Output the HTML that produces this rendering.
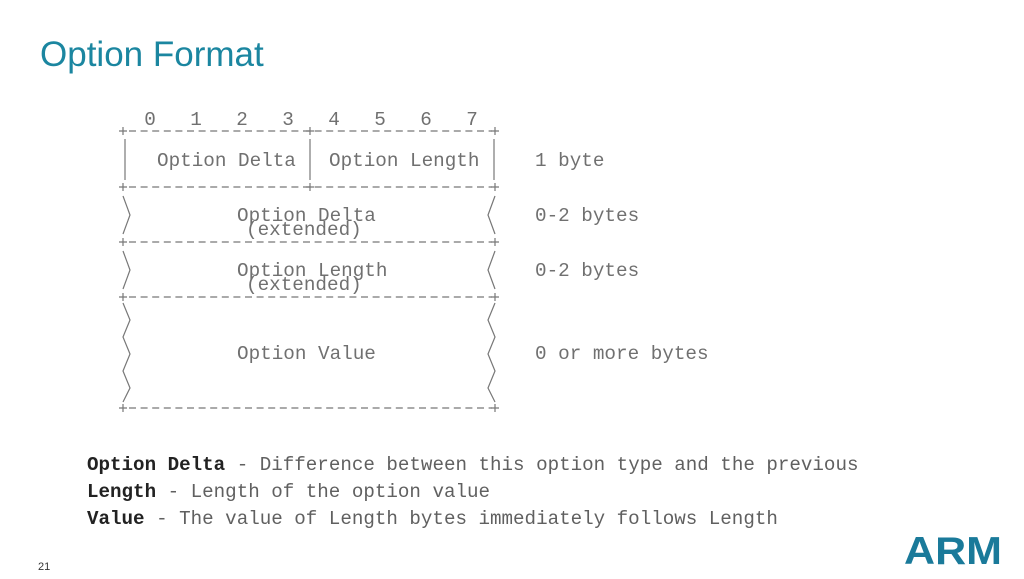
<!DOCTYPE html>
<html><head><meta charset="utf-8"><style>
html,body{margin:0;padding:0;background:#fff;width:1024px;height:579px;overflow:hidden}
</style></head><body>
<svg width="1024" height="579" xmlns="http://www.w3.org/2000/svg">
<text x="40" y="66" font-family="Liberation Sans, sans-serif" font-size="35" fill="#1b86a0">Option Format</text>
<g font-family="Liberation Mono, monospace" font-size="19.3" fill="#707070">
<text x="150" y="125" text-anchor="middle">0</text>
<text x="196" y="125" text-anchor="middle">1</text>
<text x="242" y="125" text-anchor="middle">2</text>
<text x="288" y="125" text-anchor="middle">3</text>
<text x="334" y="125" text-anchor="middle">4</text>
<text x="380" y="125" text-anchor="middle">5</text>
<text x="426" y="125" text-anchor="middle">6</text>
<text x="472" y="125" text-anchor="middle">7</text>
<text x="157" y="166">Option Delta</text>
<text x="329" y="166">Option Length</text>
<text x="237" y="221">Option Delta</text>
<text x="246" y="235">(extended)</text>
<text x="237" y="276">Option Length</text>
<text x="246" y="290">(extended)</text>
<text x="237" y="359">Option Value</text>
<text x="535" y="166">1 byte</text>
<text x="535" y="221">0-2 bytes</text>
<text x="535" y="276">0-2 bytes</text>
<text x="535" y="359">0 or more bytes</text>
</g>
<g stroke="#777" stroke-width="1.2" fill="none">
<g stroke-dasharray="7 4.6" stroke-dashoffset="-3">
<line x1="126" y1="131" x2="492" y2="131"/>
<line x1="126" y1="187" x2="492" y2="187"/>
<line x1="126" y1="242" x2="492" y2="242"/>
<line x1="126" y1="297" x2="492" y2="297"/>
<line x1="126" y1="408" x2="492" y2="408"/>
</g>
<path d="M119 131h8M123 127v8M306 131h8M310 127v8M491 131h8M495 127v8"/>
<path d="M119 187h8M123 183v8M306 187h8M310 183v8M491 187h8M495 183v8"/>
<path d="M119 242h8M123 238v8M491 242h8M495 238v8"/>
<path d="M119 297h8M123 293v8M491 297h8M495 293v8"/>
<path d="M119 408h8M123 404v8M491 408h8M495 404v8"/>
<line x1="125" y1="139" x2="125" y2="180"/>
<line x1="310" y1="139" x2="310" y2="180"/>
<line x1="494" y1="139" x2="494" y2="180"/>
<polyline points="123,196 130,215 123,234"/>
<polyline points="495,196 488,215 495,234"/>
<polyline points="123,251 130,270 123,289"/>
<polyline points="495,251 488,270 495,289"/>
<polyline points="123,303 130,320 123,337 130,354 123,371 130,388 123,402"/>
<polyline points="495,303 488,320 495,337 488,354 495,371 488,388 495,402"/>
</g>
<g font-family="Liberation Mono, monospace" font-size="19.2" fill="#606060">
<text x="87" y="470"><tspan font-weight="bold" fill="#222">Option Delta</tspan> - Difference between this option type and the previous</text>
<text x="87" y="497"><tspan font-weight="bold" fill="#222">Length</tspan> - Length of the option value</text>
<text x="87" y="524"><tspan font-weight="bold" fill="#222">Value</tspan> - The value of Length bytes immediately follows Length</text>
</g>
<text x="38" y="570" font-family="Liberation Sans, sans-serif" font-size="11" fill="#333">21</text>
<text x="953" y="564" text-anchor="middle" font-family="Liberation Sans, sans-serif" font-weight="bold" font-size="39" fill="#1a7a9a" textLength="98" lengthAdjust="spacingAndGlyphs">ARM</text>
</svg>
</body></html>
